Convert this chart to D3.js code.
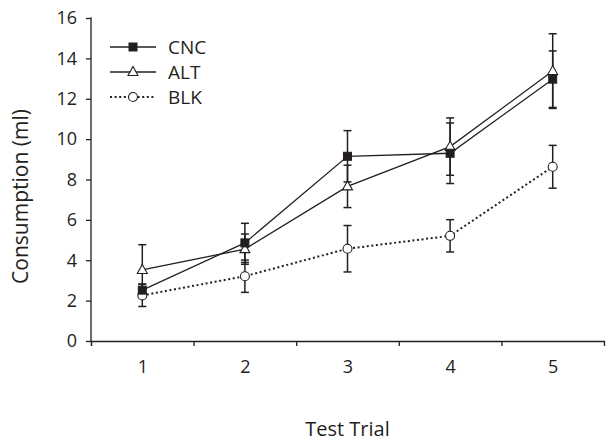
<!DOCTYPE html>
<html>
<head>
<meta charset="utf-8">
<script src="https://cdn.jsdelivr.net/npm/d3@7"></script>
<style>
  body { margin: 0; background: #fff; }
  svg text { font-family: "Open Sans", "Noto Sans", sans-serif; fill: #231f20; }
</style>
</head>
<body>
<div id="chart"></div>
<script>
// data
const trials = [1, 2, 3, 4, 5];
const cncMean = [2.52, 4.86, 9.15, 9.3, 12.97];
const cncErr = [0.3, 0.97, 1.27, 1.5, 1.4];
const altMean = [3.52, 4.55, 7.66, 9.63, 13.37];
const altErr = [1.25, 0.75, 1.05, 1.42, 1.85];
const blkMean = [2.26, 3.21, 4.57, 5.21, 8.63];
const blkErr = [0.55, 0.8, 1.15, 0.8, 1.06];
const yTicks = [0, 2, 4, 6, 8, 10, 12, 14, 16];

const ink = "#231f20";
const width = 610, height = 447;
const margin = { top: 18, right: 6, bottom: 106, left: 91 };
const w = width - margin.left - margin.right;
const h = height - margin.top - margin.bottom;

const svg = d3.select("#chart").append("svg")
  .attr("width", width).attr("height", height)
  .append("g")
  .attr("transform", `translate(${margin.left},${margin.top})`);

const x = d3.scaleLinear().domain([0.5, 5.5]).range([0, w]);
const y = d3.scaleLinear().domain([0, 16]).range([h, 0]);

const series = [
  { name: "CNC", mean: cncMean, err: cncErr, marker: "square", dash: null },
  { name: "ALT", mean: altMean, err: altErr, marker: "triangle", dash: null },
  { name: "BLK", mean: blkMean, err: blkErr, marker: "circle", dash: "2,2.6" }
];

// axes
const yAxis = svg.append("g")
  .call(d3.axisLeft(y).tickValues(yTicks).tickSize(5).tickPadding(9));
yAxis.select(".domain").attr("d", `M-0.5,0H0V${h}`);

svg.append("g")
  .attr("transform", `translate(0,${h})`)
  .call(d3.axisBottom(x).tickValues([0.5, 1.5, 2.5, 3.5, 4.5]).tickSize(5).tickFormat(""));

svg.append("g")
  .attr("transform", `translate(0,${h})`)
  .call(d3.axisBottom(x).tickValues(trials).tickSize(0).tickPadding(19).tickFormat(d3.format("d")))
  .select(".domain").remove();

svg.selectAll(".domain, .tick line").attr("stroke", ink).attr("stroke-width", 1.3);
svg.selectAll(".tick text").attr("font-size", 18).attr("fill", ink);

svg.append("text")
  .attr("x", w / 2).attr("y", h + 95)
  .attr("text-anchor", "middle").attr("font-size", 20)
  .text("Test Trial");

svg.append("text")
  .attr("transform", "rotate(-90)")
  .attr("x", -(h / 2 + 17)).attr("y", -63)
  .attr("text-anchor", "middle").attr("font-size", 21)
  .text("Consumption (ml)");

// lines
const line = d3.line().x((d, i) => x(trials[i])).y(d => y(d));
series.forEach(s => {
  svg.append("path")
    .attr("d", line(s.mean))
    .attr("fill", "none")
    .attr("stroke", ink)
    .attr("stroke-width", s.dash ? 2 : 1.3)
    .attr("stroke-dasharray", s.dash);
});

// error bars
const cap = 4;
series.forEach(s => {
  const g = svg.append("g").attr("stroke", ink).attr("stroke-width", 1.5);
  s.mean.forEach((m, i) => {
    const cx = x(trials[i]);
    const top = y(m + s.err[i]), bot = y(m - s.err[i]);
    g.append("line").attr("x1", cx).attr("x2", cx).attr("y1", top).attr("y2", bot);
    g.append("line").attr("x1", cx - cap).attr("x2", cx + cap).attr("y1", top).attr("y2", top);
    g.append("line").attr("x1", cx - cap).attr("x2", cx + cap).attr("y1", bot).attr("y2", bot);
  });
});

function drawMarker(g, type, cx, cy) {
  if (type === "square") {
    g.append("rect").attr("x", cx - 4).attr("y", cy - 4).attr("width", 8).attr("height", 8)
      .attr("fill", ink).attr("stroke", ink);
  } else if (type === "triangle") {
    g.append("path").attr("d", `M${cx},${cy - 5.5}L${cx + 5},${cy + 3.5}L${cx - 5},${cy + 3.5}Z`)
      .attr("fill", "#fff").attr("stroke", ink).attr("stroke-width", 1.1);
  } else {
    g.append("circle").attr("cx", cx).attr("cy", cy).attr("r", 4.5)
      .attr("fill", "#fff").attr("stroke", ink).attr("stroke-width", 1.1);
  }
}

// markers (BLK first so CNC/ALT sit on top)
[series[2], series[1], series[0]].forEach(s => {
  const g = svg.append("g");
  s.mean.forEach((m, i) => drawMarker(g, s.marker, x(trials[i]), y(m)));
});

// legend
const legend = svg.append("g").attr("transform", "translate(19,29)");
series.forEach((s, i) => {
  const row = legend.append("g").attr("transform", `translate(0,${i * 25})`);
  row.append("line").attr("x1", 0).attr("x2", 46).attr("y1", 0).attr("y2", 0)
    .attr("stroke", ink).attr("stroke-width", s.dash ? 2 : 1.3)
    .attr("stroke-dasharray", s.dash);
  drawMarker(row, s.marker, 23, 0);
  row.append("text").attr("x", 58).attr("y", 7).attr("font-size", 19).text(s.name);
});
</script>
</body>
</html>
